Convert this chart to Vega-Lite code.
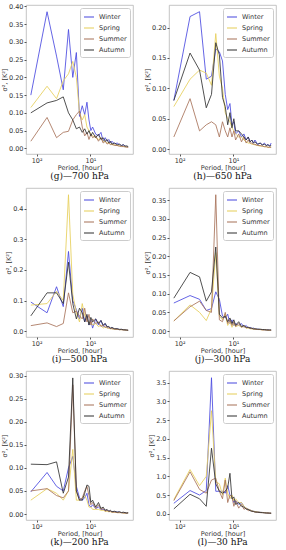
{
"$schema":"https://vega.github.io/schema/vega-lite/v6.json",
"padding":{"left":1,"top":3,"right":3,"bottom":0},
"datasets":{"d":[
{"p":"g","t":128,"Winter":0.15,"Spring":0.115,"Summer":0.02,"Autumn":0.10},
{"p":"g","t":64,"Winter":0.385,"Spring":0.175,"Summer":0.087,"Autumn":0.128},
{"p":"g","t":42.67,"Winter":0.26,"Spring":0.14,"Summer":0.03,"Autumn":0.135},
{"p":"g","t":32,"Winter":0.165,"Spring":0.19,"Summer":0.045,"Autumn":0.145},
{"p":"g","t":25.6,"Winter":0.335,"Spring":0.21,"Summer":0.048,"Autumn":0.10},
{"p":"g","t":21.33,"Winter":0.20,"Spring":0.245,"Summer":0.08,"Autumn":0.08},
{"p":"g","t":18.29,"Winter":0.27,"Spring":0.20,"Summer":0.095,"Autumn":0.055},
{"p":"g","t":16,"Winter":0.09,"Spring":0.10,"Summer":0.105,"Autumn":0.06},
{"p":"g","t":14.22,"Winter":0.12,"Spring":0.08,"Summer":0.06,"Autumn":0.045},
{"p":"g","t":12.8,"Winter":0.095,"Spring":0.095,"Summer":0.035,"Autumn":0.055},
{"p":"g","t":11.64,"Winter":0.13,"Spring":0.06,"Summer":0.045,"Autumn":0.04},
{"p":"g","t":10.67,"Winter":0.08,"Spring":0.05,"Summer":0.025,"Autumn":0.05},
{"p":"g","t":9.85,"Winter":0.05,"Spring":0.04,"Summer":0.04,"Autumn":0.035},
{"p":"g","t":9.14,"Winter":0.06,"Spring":0.035,"Summer":0.03,"Autumn":0.045},
{"p":"g","t":8,"Winter":0.04,"Spring":0.03,"Summer":0.035,"Autumn":0.03},
{"p":"g","t":7.11,"Winter":0.035,"Spring":0.025,"Summer":0.02,"Autumn":0.04},
{"p":"g","t":6.4,"Winter":0.045,"Spring":0.03,"Summer":0.03,"Autumn":0.025},
{"p":"g","t":5.82,"Winter":0.02,"Spring":0.02,"Summer":0.015,"Autumn":0.03},
{"p":"g","t":5.33,"Winter":0.03,"Spring":0.02,"Summer":0.02,"Autumn":0.02},
{"p":"g","t":4.92,"Winter":0.02,"Spring":0.015,"Summer":0.012,"Autumn":0.025},
{"p":"g","t":4.57,"Winter":0.025,"Spring":0.015,"Summer":0.015,"Autumn":0.015},
{"p":"g","t":4.27,"Winter":0.015,"Spring":0.012,"Summer":0.01,"Autumn":0.02},
{"p":"g","t":4,"Winter":0.02,"Spring":0.01,"Summer":0.012,"Autumn":0.012},
{"p":"g","t":3.56,"Winter":0.012,"Spring":0.01,"Summer":0.008,"Autumn":0.015},
{"p":"g","t":3.2,"Winter":0.015,"Spring":0.008,"Summer":0.008,"Autumn":0.01},
{"p":"g","t":2.91,"Winter":0.01,"Spring":0.007,"Summer":0.006,"Autumn":0.012},
{"p":"g","t":2.67,"Winter":0.008,"Spring":0.006,"Summer":0.005,"Autumn":0.008},
{"p":"g","t":2.46,"Winter":0.01,"Spring":0.005,"Summer":0.005,"Autumn":0.01},
{"p":"g","t":2.29,"Winter":0.006,"Spring":0.005,"Summer":0.004,"Autumn":0.006},
{"p":"g","t":2.13,"Winter":0.005,"Spring":0.004,"Summer":0.003,"Autumn":0.007},
{"p":"g","t":2,"Winter":0.004,"Spring":0.004,"Summer":0.003,"Autumn":0.005},

{"p":"h","t":128,"Winter":0.08,"Spring":0.07,"Summer":0.02,"Autumn":0.08},
{"p":"h","t":64,"Winter":0.218,"Spring":0.115,"Summer":0.083,"Autumn":0.158},
{"p":"h","t":42.67,"Winter":0.226,"Spring":0.13,"Summer":0.03,"Autumn":0.13},
{"p":"h","t":32,"Winter":0.115,"Spring":0.125,"Summer":0.04,"Autumn":0.068},
{"p":"h","t":25.6,"Winter":0.12,"Spring":0.105,"Summer":0.045,"Autumn":0.09},
{"p":"h","t":21.33,"Winter":0.165,"Spring":0.19,"Summer":0.04,"Autumn":0.175},
{"p":"h","t":18.29,"Winter":0.16,"Spring":0.12,"Summer":0.02,"Autumn":0.155},
{"p":"h","t":16,"Winter":0.145,"Spring":0.10,"Summer":0.045,"Autumn":0.085},
{"p":"h","t":14.22,"Winter":0.09,"Spring":0.06,"Summer":0.03,"Autumn":0.07},
{"p":"h","t":12.8,"Winter":0.065,"Spring":0.05,"Summer":0.02,"Autumn":0.04},
{"p":"h","t":11.64,"Winter":0.075,"Spring":0.045,"Summer":0.035,"Autumn":0.06},
{"p":"h","t":10.67,"Winter":0.04,"Spring":0.035,"Summer":0.02,"Autumn":0.035},
{"p":"h","t":9.85,"Winter":0.045,"Spring":0.03,"Summer":0.03,"Autumn":0.05},
{"p":"h","t":9.14,"Winter":0.025,"Spring":0.025,"Summer":0.015,"Autumn":0.03},
{"p":"h","t":8,"Winter":0.03,"Spring":0.02,"Summer":0.025,"Autumn":0.03},
{"p":"h","t":7.11,"Winter":0.02,"Spring":0.02,"Summer":0.012,"Autumn":0.025},
{"p":"h","t":6.4,"Winter":0.025,"Spring":0.015,"Summer":0.02,"Autumn":0.02},
{"p":"h","t":5.82,"Winter":0.015,"Spring":0.012,"Summer":0.01,"Autumn":0.015},
{"p":"h","t":5.33,"Winter":0.02,"Spring":0.01,"Summer":0.015,"Autumn":0.02},
{"p":"h","t":4.92,"Winter":0.012,"Spring":0.01,"Summer":0.01,"Autumn":0.012},
{"p":"h","t":4.57,"Winter":0.015,"Spring":0.008,"Summer":0.01,"Autumn":0.015},
{"p":"h","t":4.27,"Winter":0.01,"Spring":0.008,"Summer":0.008,"Autumn":0.01},
{"p":"h","t":4,"Winter":0.015,"Spring":0.007,"Summer":0.008,"Autumn":0.012},
{"p":"h","t":3.56,"Winter":0.008,"Spring":0.006,"Summer":0.006,"Autumn":0.008},
{"p":"h","t":3.2,"Winter":0.01,"Spring":0.005,"Summer":0.006,"Autumn":0.01},
{"p":"h","t":2.91,"Winter":0.007,"Spring":0.005,"Summer":0.005,"Autumn":0.007},
{"p":"h","t":2.67,"Winter":0.01,"Spring":0.004,"Summer":0.004,"Autumn":0.008},
{"p":"h","t":2.46,"Winter":0.006,"Spring":0.004,"Summer":0.004,"Autumn":0.006},
{"p":"h","t":2.29,"Winter":0.008,"Spring":0.003,"Summer":0.003,"Autumn":0.007},
{"p":"h","t":2.13,"Winter":0.005,"Spring":0.003,"Summer":0.003,"Autumn":0.005},
{"p":"h","t":2,"Winter":0.01,"Spring":0.003,"Summer":0.003,"Autumn":0.006},

{"p":"i","t":128,"Winter":0.095,"Spring":0.085,"Summer":0.018,"Autumn":0.05},
{"p":"i","t":64,"Winter":0.06,"Spring":0.09,"Summer":0.027,"Autumn":0.125},
{"p":"i","t":42.67,"Winter":0.145,"Spring":0.13,"Summer":0.015,"Autumn":0.125},
{"p":"i","t":32,"Winter":0.08,"Spring":0.10,"Summer":0.025,"Autumn":0.09},
{"p":"i","t":25.6,"Winter":0.26,"Spring":0.445,"Summer":0.125,"Autumn":0.225},
{"p":"i","t":21.33,"Winter":0.10,"Spring":0.12,"Summer":0.06,"Autumn":0.09},
{"p":"i","t":18.29,"Winter":0.07,"Spring":0.06,"Summer":0.065,"Autumn":0.04},
{"p":"i","t":16,"Winter":0.04,"Spring":0.03,"Summer":0.05,"Autumn":0.075},
{"p":"i","t":14.22,"Winter":0.075,"Spring":0.09,"Summer":0.04,"Autumn":0.06},
{"p":"i","t":12.8,"Winter":0.03,"Spring":0.05,"Summer":0.075,"Autumn":0.03},
{"p":"i","t":11.64,"Winter":0.05,"Spring":0.04,"Summer":0.03,"Autumn":0.055},
{"p":"i","t":10.67,"Winter":0.02,"Spring":0.025,"Summer":0.055,"Autumn":0.02},
{"p":"i","t":9.85,"Winter":0.035,"Spring":0.03,"Summer":0.02,"Autumn":0.045},
{"p":"i","t":9.14,"Winter":0.01,"Spring":0.02,"Summer":0.04,"Autumn":0.03},
{"p":"i","t":8,"Winter":0.04,"Spring":0.025,"Summer":0.025,"Autumn":0.04},
{"p":"i","t":7.11,"Winter":0.02,"Spring":0.015,"Summer":0.03,"Autumn":0.025},
{"p":"i","t":6.4,"Winter":0.035,"Spring":0.02,"Summer":0.015,"Autumn":0.035},
{"p":"i","t":5.82,"Winter":0.015,"Spring":0.01,"Summer":0.02,"Autumn":0.02},
{"p":"i","t":5.33,"Winter":0.025,"Spring":0.015,"Summer":0.012,"Autumn":0.025},
{"p":"i","t":4.92,"Winter":0.01,"Spring":0.01,"Summer":0.015,"Autumn":0.015},
{"p":"i","t":4.57,"Winter":0.015,"Spring":0.01,"Summer":0.01,"Autumn":0.015},
{"p":"i","t":4.27,"Winter":0.008,"Spring":0.008,"Summer":0.01,"Autumn":0.01},
{"p":"i","t":4,"Winter":0.012,"Spring":0.008,"Summer":0.008,"Autumn":0.012},
{"p":"i","t":3.56,"Winter":0.006,"Spring":0.006,"Summer":0.007,"Autumn":0.008},
{"p":"i","t":3.2,"Winter":0.008,"Spring":0.006,"Summer":0.006,"Autumn":0.008},
{"p":"i","t":2.91,"Winter":0.005,"Spring":0.005,"Summer":0.005,"Autumn":0.006},
{"p":"i","t":2.67,"Winter":0.006,"Spring":0.005,"Summer":0.005,"Autumn":0.006},
{"p":"i","t":2.46,"Winter":0.004,"Spring":0.004,"Summer":0.004,"Autumn":0.005},
{"p":"i","t":2.29,"Winter":0.005,"Spring":0.004,"Summer":0.004,"Autumn":0.004},
{"p":"i","t":2.13,"Winter":0.003,"Spring":0.003,"Summer":0.003,"Autumn":0.004},
{"p":"i","t":2,"Winter":0.003,"Spring":0.003,"Summer":0.003,"Autumn":0.003},

{"p":"j","t":128,"Winter":0.075,"Spring":0.027,"Summer":0.027,"Autumn":0.088},
{"p":"j","t":64,"Winter":0.095,"Spring":0.07,"Summer":0.065,"Autumn":0.157},
{"p":"j","t":42.67,"Winter":0.085,"Spring":0.05,"Summer":0.08,"Autumn":0.145},
{"p":"j","t":32,"Winter":0.055,"Spring":0.028,"Summer":0.055,"Autumn":0.08},
{"p":"j","t":25.6,"Winter":0.06,"Spring":0.06,"Summer":0.05,"Autumn":0.105},
{"p":"j","t":21.33,"Winter":0.105,"Spring":0.21,"Summer":0.365,"Autumn":0.225},
{"p":"j","t":18.29,"Winter":0.085,"Spring":0.04,"Summer":0.03,"Autumn":0.045},
{"p":"j","t":16,"Winter":0.04,"Spring":0.03,"Summer":0.025,"Autumn":0.035},
{"p":"j","t":14.22,"Winter":0.035,"Spring":0.045,"Summer":0.05,"Autumn":0.04},
{"p":"j","t":12.8,"Winter":0.045,"Spring":0.015,"Summer":0.02,"Autumn":0.025},
{"p":"j","t":11.64,"Winter":0.02,"Spring":0.025,"Summer":0.03,"Autumn":0.035},
{"p":"j","t":10.67,"Winter":0.03,"Spring":0.01,"Summer":0.015,"Autumn":0.02},
{"p":"j","t":9.85,"Winter":0.015,"Spring":0.02,"Summer":0.025,"Autumn":0.03},
{"p":"j","t":9.14,"Winter":0.02,"Spring":0.012,"Summer":0.012,"Autumn":0.015},
{"p":"j","t":8,"Winter":0.015,"Spring":0.015,"Summer":0.02,"Autumn":0.025},
{"p":"j","t":7.11,"Winter":0.02,"Spring":0.01,"Summer":0.01,"Autumn":0.012},
{"p":"j","t":6.4,"Winter":0.01,"Spring":0.012,"Summer":0.015,"Autumn":0.015},
{"p":"j","t":5.82,"Winter":0.015,"Spring":0.008,"Summer":0.008,"Autumn":0.01},
{"p":"j","t":5.33,"Winter":0.008,"Spring":0.008,"Summer":0.01,"Autumn":0.01},
{"p":"j","t":4.92,"Winter":0.01,"Spring":0.006,"Summer":0.007,"Autumn":0.008},
{"p":"j","t":4.57,"Winter":0.006,"Spring":0.006,"Summer":0.007,"Autumn":0.008},
{"p":"j","t":4.27,"Winter":0.008,"Spring":0.005,"Summer":0.005,"Autumn":0.006},
{"p":"j","t":4,"Winter":0.005,"Spring":0.005,"Summer":0.005,"Autumn":0.006},
{"p":"j","t":3.56,"Winter":0.005,"Spring":0.004,"Summer":0.004,"Autumn":0.005},
{"p":"j","t":3.2,"Winter":0.004,"Spring":0.004,"Summer":0.004,"Autumn":0.005},
{"p":"j","t":2.91,"Winter":0.004,"Spring":0.003,"Summer":0.003,"Autumn":0.004},
{"p":"j","t":2.67,"Winter":0.003,"Spring":0.003,"Summer":0.003,"Autumn":0.004},
{"p":"j","t":2.46,"Winter":0.003,"Spring":0.003,"Summer":0.003,"Autumn":0.003},
{"p":"j","t":2.29,"Winter":0.003,"Spring":0.002,"Summer":0.002,"Autumn":0.003},
{"p":"j","t":2.13,"Winter":0.002,"Spring":0.002,"Summer":0.002,"Autumn":0.003},
{"p":"j","t":2,"Winter":0.002,"Spring":0.002,"Summer":0.002,"Autumn":0.003},

{"p":"k","t":128,"Winter":0.048,"Spring":0.03,"Summer":0.05,"Autumn":0.108},
{"p":"k","t":64,"Winter":0.09,"Spring":0.055,"Summer":0.055,"Autumn":0.107},
{"p":"k","t":42.67,"Winter":0.06,"Spring":0.045,"Summer":0.04,"Autumn":0.113},
{"p":"k","t":32,"Winter":0.05,"Spring":0.03,"Summer":0.035,"Autumn":0.045},
{"p":"k","t":25.6,"Winter":0.10,"Spring":0.05,"Summer":0.05,"Autumn":0.08},
{"p":"k","t":21.33,"Winter":0.125,"Spring":0.14,"Summer":0.28,"Autumn":0.295},
{"p":"k","t":18.29,"Winter":0.06,"Spring":0.03,"Summer":0.05,"Autumn":0.05},
{"p":"k","t":16,"Winter":0.035,"Spring":0.03,"Summer":0.03,"Autumn":0.03},
{"p":"k","t":14.22,"Winter":0.03,"Spring":0.035,"Summer":0.035,"Autumn":0.03},
{"p":"k","t":12.8,"Winter":0.035,"Spring":0.04,"Summer":0.05,"Autumn":0.045},
{"p":"k","t":11.64,"Winter":0.045,"Spring":0.03,"Summer":0.06,"Autumn":0.063},
{"p":"k","t":10.67,"Winter":0.02,"Spring":0.015,"Summer":0.04,"Autumn":0.06},
{"p":"k","t":9.85,"Winter":0.015,"Spring":0.015,"Summer":0.02,"Autumn":0.025},
{"p":"k","t":9.14,"Winter":0.02,"Spring":0.01,"Summer":0.025,"Autumn":0.03},
{"p":"k","t":8,"Winter":0.012,"Spring":0.01,"Summer":0.012,"Autumn":0.015},
{"p":"k","t":7.11,"Winter":0.015,"Spring":0.01,"Summer":0.02,"Autumn":0.025},
{"p":"k","t":6.4,"Winter":0.01,"Spring":0.008,"Summer":0.01,"Autumn":0.012},
{"p":"k","t":5.82,"Winter":0.01,"Spring":0.008,"Summer":0.012,"Autumn":0.015},
{"p":"k","t":5.33,"Winter":0.008,"Spring":0.006,"Summer":0.006,"Autumn":0.008},
{"p":"k","t":4.92,"Winter":0.008,"Spring":0.006,"Summer":0.008,"Autumn":0.01},
{"p":"k","t":4.57,"Winter":0.006,"Spring":0.005,"Summer":0.005,"Autumn":0.006},
{"p":"k","t":4.27,"Winter":0.006,"Spring":0.005,"Summer":0.006,"Autumn":0.008},
{"p":"k","t":4,"Winter":0.005,"Spring":0.004,"Summer":0.004,"Autumn":0.005},
{"p":"k","t":3.56,"Winter":0.005,"Spring":0.004,"Summer":0.004,"Autumn":0.006},
{"p":"k","t":3.2,"Winter":0.004,"Spring":0.003,"Summer":0.003,"Autumn":0.004},
{"p":"k","t":2.91,"Winter":0.004,"Spring":0.003,"Summer":0.003,"Autumn":0.005},
{"p":"k","t":2.67,"Winter":0.003,"Spring":0.003,"Summer":0.003,"Autumn":0.003},
{"p":"k","t":2.46,"Winter":0.003,"Spring":0.002,"Summer":0.002,"Autumn":0.004},
{"p":"k","t":2.29,"Winter":0.003,"Spring":0.002,"Summer":0.002,"Autumn":0.003},
{"p":"k","t":2.13,"Winter":0.002,"Spring":0.002,"Summer":0.002,"Autumn":0.002},
{"p":"k","t":2,"Winter":0.002,"Spring":0.002,"Summer":0.002,"Autumn":0.003},

{"p":"l","t":128,"Winter":0.28,"Spring":0.38,"Summer":0.35,"Autumn":0.13},
{"p":"l","t":64,"Winter":0.62,"Spring":1.18,"Summer":1.12,"Autumn":0.52},
{"p":"l","t":42.67,"Winter":0.5,"Spring":0.75,"Summer":0.65,"Autumn":0.4},
{"p":"l","t":32,"Winter":0.62,"Spring":1.0,"Summer":0.55,"Autumn":0.2},
{"p":"l","t":25.6,"Winter":3.63,"Spring":2.75,"Summer":0.9,"Autumn":1.75},
{"p":"l","t":21.33,"Winter":0.6,"Spring":0.85,"Summer":0.95,"Autumn":0.8},
{"p":"l","t":18.29,"Winter":0.6,"Spring":0.8,"Summer":0.6,"Autumn":0.6},
{"p":"l","t":16,"Winter":0.6,"Spring":0.5,"Summer":0.4,"Autumn":0.55},
{"p":"l","t":14.22,"Winter":0.55,"Spring":0.95,"Summer":0.9,"Autumn":0.6},
{"p":"l","t":12.8,"Winter":0.75,"Spring":0.55,"Summer":0.3,"Autumn":0.7},
{"p":"l","t":11.64,"Winter":0.5,"Spring":0.4,"Summer":0.5,"Autumn":1.08},
{"p":"l","t":10.67,"Winter":0.45,"Spring":0.5,"Summer":0.45,"Autumn":0.4},
{"p":"l","t":9.85,"Winter":0.3,"Spring":0.35,"Summer":0.2,"Autumn":0.45},
{"p":"l","t":9.14,"Winter":0.35,"Spring":0.4,"Summer":0.35,"Autumn":0.25},
{"p":"l","t":8,"Winter":0.25,"Spring":0.3,"Summer":0.15,"Autumn":0.3},
{"p":"l","t":7.11,"Winter":0.3,"Spring":0.3,"Summer":0.25,"Autumn":0.2},
{"p":"l","t":6.4,"Winter":0.2,"Spring":0.2,"Summer":0.12,"Autumn":0.18},
{"p":"l","t":5.82,"Winter":0.15,"Spring":0.15,"Summer":0.15,"Autumn":0.12},
{"p":"l","t":5.33,"Winter":0.12,"Spring":0.12,"Summer":0.08,"Autumn":0.12},
{"p":"l","t":4.92,"Winter":0.1,"Spring":0.1,"Summer":0.1,"Autumn":0.08},
{"p":"l","t":4.57,"Winter":0.08,"Spring":0.08,"Summer":0.06,"Autumn":0.07},
{"p":"l","t":4.27,"Winter":0.07,"Spring":0.07,"Summer":0.06,"Autumn":0.06},
{"p":"l","t":4,"Winter":0.06,"Spring":0.06,"Summer":0.04,"Autumn":0.05},
{"p":"l","t":3.56,"Winter":0.05,"Spring":0.05,"Summer":0.04,"Autumn":0.04},
{"p":"l","t":3.2,"Winter":0.04,"Spring":0.04,"Summer":0.03,"Autumn":0.035},
{"p":"l","t":2.91,"Winter":0.035,"Spring":0.035,"Summer":0.03,"Autumn":0.03},
{"p":"l","t":2.67,"Winter":0.03,"Spring":0.03,"Summer":0.025,"Autumn":0.025},
{"p":"l","t":2.46,"Winter":0.025,"Spring":0.025,"Summer":0.02,"Autumn":0.02},
{"p":"l","t":2.29,"Winter":0.02,"Spring":0.02,"Summer":0.02,"Autumn":0.02},
{"p":"l","t":2.13,"Winter":0.02,"Spring":0.02,"Summer":0.015,"Autumn":0.015},
{"p":"l","t":2,"Winter":0.015,"Spring":0.015,"Summer":0.015,"Autumn":0.015}
]},
"data":{"name":"d"},
"columns":2,
"spacing":{"column":10,"row":5},
"resolve":{"scale":{"x":"independent","y":"independent"},"legend":{"color":"independent"}},
"concat":[
{"width":107,"height":149,
 "title":{"text":"(g)—700 hPa"},
 "transform":[{"filter":"datum.p=='g'"},{"fold":["Winter","Spring","Summer","Autumn"],"as":["season","v"]}],
 "mark":{"type":"line","strokeWidth":1,"opacity":0.85},
 "encoding":{
  "x":{"field":"t","type":"quantitative","scale":{"type":"log","domain":[1.626,157.4],"reverse":true,"nice":false,"zero":false},"axis":{"values":[100,10],"labelExpr":"datum.value==100?'10²':'10¹'","title":"Period, [hour]"}},
  "y":{"field":"v","type":"quantitative","scale":{"domain":[-0.016,0.404],"nice":false,"zero":false},"axis":{"values":[0,0.05,0.1,0.15,0.2,0.25,0.3,0.35,0.4],"format":".2f","title":"σ², [K²]"}},
  "color":{"field":"season","type":"nominal","scale":{"domain":["Winter","Spring","Summer","Autumn"],"range":["#4a4ae0","#e6cf5a","#a8735a","#333333"]},"legend":{"title":null}}
 }},
{"width":107,"height":149,
 "title":{"text":"(h)—650 hPa"},
 "transform":[{"filter":"datum.p=='h'"},{"fold":["Winter","Spring","Summer","Autumn"],"as":["season","v"]}],
 "mark":{"type":"line","strokeWidth":1,"opacity":0.85},
 "encoding":{
  "x":{"field":"t","type":"quantitative","scale":{"type":"log","domain":[1.626,157.4],"reverse":true,"nice":false,"zero":false},"axis":{"values":[100,10],"labelExpr":"datum.value==100?'10²':'10¹'","title":"Period, [hour]"}},
  "y":{"field":"v","type":"quantitative","scale":{"domain":[-0.008,0.237],"nice":false,"zero":false},"axis":{"values":[0,0.05,0.1,0.15,0.2],"format":".2f","title":"σ², [K²]"}},
  "color":{"field":"season","type":"nominal","scale":{"domain":["Winter","Spring","Summer","Autumn"],"range":["#4a4ae0","#e6cf5a","#a8735a","#333333"]},"legend":{"title":null}}
 }},
{"width":107,"height":149,
 "title":{"text":"(i)—500 hPa"},
 "transform":[{"filter":"datum.p=='i'"},{"fold":["Winter","Spring","Summer","Autumn"],"as":["season","v"]}],
 "mark":{"type":"line","strokeWidth":1,"opacity":0.85},
 "encoding":{
  "x":{"field":"t","type":"quantitative","scale":{"type":"log","domain":[1.626,157.4],"reverse":true,"nice":false,"zero":false},"axis":{"values":[100,10],"labelExpr":"datum.value==100?'10²':'10¹'","title":"Period, [hour]"}},
  "y":{"field":"v","type":"quantitative","scale":{"domain":[-0.019,0.467],"nice":false,"zero":false},"axis":{"values":[0,0.1,0.2,0.3,0.4],"format":".1f","title":"σ², [K²]"}},
  "color":{"field":"season","type":"nominal","scale":{"domain":["Winter","Spring","Summer","Autumn"],"range":["#4a4ae0","#e6cf5a","#a8735a","#333333"]},"legend":{"title":null}}
 }},
{"width":107,"height":149,
 "title":{"text":"(j)—300 hPa"},
 "transform":[{"filter":"datum.p=='j'"},{"fold":["Winter","Spring","Summer","Autumn"],"as":["season","v"]}],
 "mark":{"type":"line","strokeWidth":1,"opacity":0.85},
 "encoding":{
  "x":{"field":"t","type":"quantitative","scale":{"type":"log","domain":[1.626,157.4],"reverse":true,"nice":false,"zero":false},"axis":{"values":[100,10],"labelExpr":"datum.value==100?'10²':'10¹'","title":"Period, [hour]"}},
  "y":{"field":"v","type":"quantitative","scale":{"domain":[-0.016,0.383],"nice":false,"zero":false},"axis":{"values":[0,0.05,0.1,0.15,0.2,0.25,0.3,0.35],"format":".2f","title":"σ², [K²]"}},
  "color":{"field":"season","type":"nominal","scale":{"domain":["Winter","Spring","Summer","Autumn"],"range":["#4a4ae0","#e6cf5a","#a8735a","#333333"]},"legend":{"title":null}}
 }},
{"width":107,"height":149,
 "title":{"text":"(k)—200 hPa"},
 "transform":[{"filter":"datum.p=='k'"},{"fold":["Winter","Spring","Summer","Autumn"],"as":["season","v"]}],
 "mark":{"type":"line","strokeWidth":1,"opacity":0.85},
 "encoding":{
  "x":{"field":"t","type":"quantitative","scale":{"type":"log","domain":[1.626,157.4],"reverse":true,"nice":false,"zero":false},"axis":{"values":[100,10],"labelExpr":"datum.value==100?'10²':'10¹'","title":"Period, [hour]"}},
  "y":{"field":"v","type":"quantitative","scale":{"domain":[-0.013,0.31],"nice":false,"zero":false},"axis":{"values":[0,0.05,0.1,0.15,0.2,0.25,0.3],"format":".2f","title":"σ², [K²]"}},
  "color":{"field":"season","type":"nominal","scale":{"domain":["Winter","Spring","Summer","Autumn"],"range":["#4a4ae0","#e6cf5a","#a8735a","#333333"]},"legend":{"title":null}}
 }},
{"width":107,"height":149,
 "title":{"text":"(l)—30 hPa"},
 "transform":[{"filter":"datum.p=='l'"},{"fold":["Winter","Spring","Summer","Autumn"],"as":["season","v"]}],
 "mark":{"type":"line","strokeWidth":1,"opacity":0.85},
 "encoding":{
  "x":{"field":"t","type":"quantitative","scale":{"type":"log","domain":[1.626,157.4],"reverse":true,"nice":false,"zero":false},"axis":{"values":[100,10],"labelExpr":"datum.value==100?'10²':'10¹'","title":"Period, [hour]"}},
  "y":{"field":"v","type":"quantitative","scale":{"domain":[-0.166,3.81],"nice":false,"zero":false},"axis":{"values":[0,0.5,1,1.5,2,2.5,3,3.5],"format":".1f","title":"σ², [K²]"}},
  "color":{"field":"season","type":"nominal","scale":{"domain":["Winter","Spring","Summer","Autumn"],"range":["#4a4ae0","#e6cf5a","#a8735a","#333333"]},"legend":{"title":null}}
 }}
],
"config":{
 "font":"DejaVu Sans",
 "view":{"stroke":"#b5b5b5","strokeWidth":0.8},
 "axis":{"labelFontSize":6.5,"titleFontSize":6.5,"titleFontWeight":"normal","labelColor":"#333333","titleColor":"#333333","domain":false,"grid":false,"tickSize":2,"tickColor":"#555555","labelPadding":1,"titlePadding":1},
 "axisX":{"labelColor":"#333333","titleColor":"#333333"},
 "title":{"orient":"bottom","font":"DejaVu Serif","fontSize":9,"fontWeight":"normal","color":"#111111","offset":1},
 "legend":{"orient":"top-right","offset":3,"padding":3,"strokeColor":"#cccccc","fillColor":"white","labelFontSize":6.5,"labelColor":"#333333","symbolType":"stroke","symbolStrokeWidth":1.2,"symbolSize":100,"rowPadding":1,"cornerRadius":2,"labelOffset":4}
}
}
